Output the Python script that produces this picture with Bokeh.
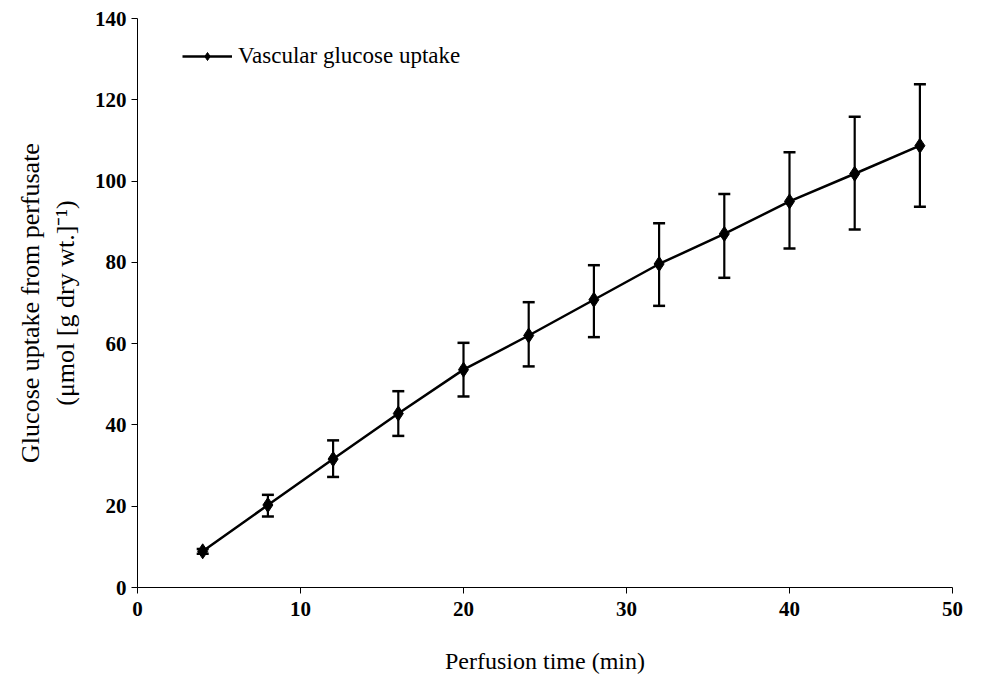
from bokeh.plotting import figure
from bokeh.models import ColumnDataSource, Whisker, Range1d, FixedTicker, Legend, LegendItem
from bokeh.embed import file_html
from bokeh.resources import INLINE

time_min = [4, 8, 12, 16, 20, 24, 28, 32, 36, 40, 44, 48]
uptake = [8.9, 20.3, 31.6, 42.8, 53.6, 62.0, 70.8, 79.6, 87.0, 95.0, 101.8, 108.7]
err_upper = [9.5, 22.8, 36.2, 48.3, 60.2, 70.2, 79.3, 89.6, 96.8, 107.1, 115.8, 123.8]
err_lower = [8.3, 17.5, 27.2, 37.3, 47.0, 54.4, 61.6, 69.3, 76.2, 83.4, 88.1, 93.7]
x_ticks = [0, 10, 20, 30, 40, 50]
y_ticks = [0, 20, 40, 60, 80, 100, 120, 140]
series_name = "Vascular glucose uptake"

FONT = "Liberation Serif"

src = ColumnDataSource(dict(x=time_min, y=uptake, upper=err_upper, lower=err_lower))

p = figure(width=981, height=686, output_backend="svg", toolbar_location=None,
           x_range=Range1d(0, 50), y_range=Range1d(0, 140),
           min_border_left=137, min_border_right=29, min_border_top=18, min_border_bottom=99)
p.outline_line_color = None
p.xgrid.visible = False
p.ygrid.visible = False
p.background_fill_color = "white"
p.border_fill_color = "white"

w = Whisker(source=src, base="x", upper="upper", lower="lower",
            line_color="black", line_width=2.2)
w.upper_head.size = 12
w.lower_head.size = 12
w.upper_head.line_width = 2.5
w.lower_head.line_width = 2.5
w.upper_head.line_color = "black"
w.lower_head.line_color = "black"
p.add_layout(w)

ln = p.line("x", "y", source=src, line_color="black", line_width=2.5)
mk = p.scatter("x", "y", source=src, marker="diamond", size=15,
               fill_color="black", line_color="black")

for ax in (p.xaxis[0], p.yaxis[0]):
    ax.axis_line_color = "black"
    ax.axis_line_width = 1
    ax.major_tick_line_color = "black"
    ax.major_tick_out = 6
    ax.major_tick_in = 0
    ax.minor_tick_line_color = None
    ax.major_label_text_font = FONT
    ax.major_label_text_font_size = "21px"
    ax.major_label_text_font_style = "bold"
    ax.major_label_text_color = "black"
    ax.axis_label_text_font = FONT
    ax.axis_label_text_font_style = "normal"
    ax.axis_label_text_color = "black"

p.xaxis.ticker = FixedTicker(ticks=x_ticks)
p.yaxis.ticker = FixedTicker(ticks=y_ticks)
p.xaxis.major_label_standoff = 8
p.yaxis.major_label_standoff = 5
p.xaxis.axis_label = "Perfusion time (min)"
p.xaxis.axis_label_text_font_size = "24px"
p.xaxis.axis_label_standoff = 29
p.yaxis.axis_label = "Glucose uptake from perfusate\n(\u03bcmol [g dry wt.]\u207b\u00b9)"
p.yaxis.axis_label_text_font_size = "26px"
p.yaxis.axis_label_standoff = 12

legend = Legend(items=[LegendItem(label=series_name, renderers=[ln, mk])],
                location=(45, 518), border_line_color=None, background_fill_alpha=0,
                glyph_width=50, glyph_height=20, label_standoff=6, padding=10,
                label_text_font=FONT, label_text_font_size="23px",
                label_text_color="black")
p.add_layout(legend)

open("out.html", "w").write(file_html(p, INLINE))
